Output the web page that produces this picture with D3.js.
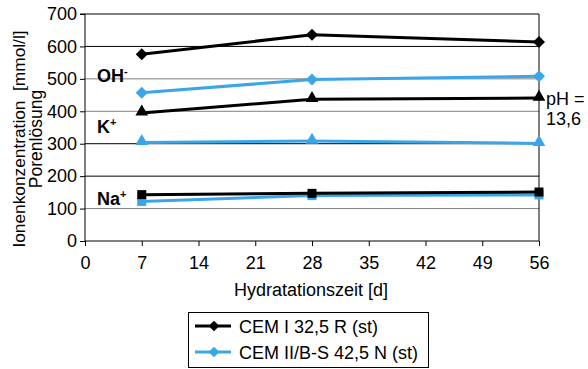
<!DOCTYPE html>
<html><head><meta charset="utf-8">
<script src="https://cdn.jsdelivr.net/npm/d3@7"></script>
<style>body{margin:0;background:#fff}svg{font-family:"Liberation Sans",Arial,sans-serif}</style>
</head><body><svg id="c" width="588" height="369"></svg>
<script>
const days = [7, 28, 56];
const xTicks = [0, 7, 14, 21, 28, 35, 42, 49, 56];
const yTicks = [0, 100, 200, 300, 400, 500, 600, 700];
const ohCem1 = [576, 636, 614];
const ohCem2 = [457, 498, 508];
const kCem1 = [395, 437, 441];
const kCem2 = [304, 308, 301];
const naCem1 = [143, 147, 151];
const naCem2 = [122, 140, 142];
const BLUE = "#3aa6e8";
const series = [
  {vals: ohCem2, color: BLUE, sym: "d"},
  {vals: kCem2, color: BLUE, sym: "t"},
  {vals: naCem2, color: BLUE, sym: "s"},
  {vals: ohCem1, color: "#000", sym: "d"},
  {vals: kCem1, color: "#000", sym: "t"},
  {vals: naCem1, color: "#000", sym: "s"}
];
const gridGray = [100, 400, 500];
const svg = d3.select("#c");
const x = d3.scaleLinear().domain([0, 56]).range([85, 539]);
const y = d3.scaleLinear().domain([0, 700]).range([241, 14]);

function marker(sym, cx, cy, color, scale) {
  scale = scale || 1;
  if (sym === "d") {
    return svg.append("path").attr("transform", `translate(${cx},${cy}) rotate(45)`)
      .attr("d", d3.symbol(d3.symbolSquare, 72 * scale)).attr("fill", color);
  } else if (sym === "t") {
    return svg.append("path").attr("transform", `translate(${cx},${cy - 1})`)
      .attr("d", d3.symbol(d3.symbolTriangle, 70)).attr("fill", color);
  } else {
    return svg.append("path").attr("transform", `translate(${cx},${cy})`)
      .attr("d", d3.symbol(d3.symbolSquare, 81)).attr("fill", color);
  }
}

// grid
svg.append("g").selectAll("line").data(yTicks.filter(v => v > 0)).join("line")
  .attr("x1", x(0)).attr("x2", x(56)).attr("y1", d => y(d)).attr("y2", d => y(d))
  .attr("stroke", d => gridGray.includes(d) ? "#808080" : "#000").attr("stroke-width", 1);
svg.append("line").attr("x1", x(56)).attr("x2", x(56)).attr("y1", y(0)).attr("y2", y(700)).attr("stroke", "#000");

const yAx = svg.append("g").attr("transform", `translate(${x(0)},0)`)
  .call(d3.axisLeft(y).tickValues(yTicks).tickSize(5).tickPadding(3));
yAx.selectAll("text").attr("font-size", 18).attr("fill", "#000").attr("font-family", "Liberation Sans, Arial");
yAx.select(".domain").attr("d", `M-5,${y(700)}H0V${y(0)}`);
const xAx = svg.append("g").attr("transform", `translate(0,${y(0)})`)
  .call(d3.axisBottom(x).tickValues(xTicks).tickSize(5).tickPadding(10));
xAx.selectAll("text").attr("font-size", 18).attr("fill", "#000").attr("font-family", "Liberation Sans, Arial");
xAx.select(".domain").attr("d", `M${x(0)},0H${x(56)}`);

const line = d3.line().x((d, i) => x(days[i])).y(d => y(d));
series.forEach(s => {
  svg.append("path").attr("d", line(s.vals)).attr("fill", "none").attr("stroke", s.color).attr("stroke-width", 3);
  s.vals.forEach((v, i) => marker(s.sym, x(days[i]), y(v), s.color));
});

// ion labels
const lab = [["OH", "-", 82], ["K", "+", 133], ["Na", "+", 205]];
lab.forEach(l => {
  const t = svg.append("text").attr("x", 97).attr("y", l[2]).attr("font-size", 18).attr("font-weight", "bold");
  t.append("tspan").text(l[0]);
  t.append("tspan").text(l[1]).attr("font-size", 11).attr("dy", -7);
});
svg.append("text").attr("x", 546).attr("y", 105).attr("font-size", 18).text("pH =");
svg.append("text").attr("x", 546).attr("y", 125).attr("font-size", 18).text("13,6");

// axis titles
svg.append("text").attr("transform", "translate(25,139) rotate(-90)").attr("text-anchor", "middle").attr("font-size", 17.3)
  .style("white-space", "pre").text("Ionenkonzentration  [mmol/l]");
svg.append("text").attr("transform", "translate(42,139) rotate(-90)").attr("text-anchor", "middle").attr("font-size", 17.5).text("Porenlösung");
svg.append("text").attr("x", 311).attr("y", 296).attr("text-anchor", "middle").attr("font-size", 18).text("Hydratationszeit [d]");

// legend
svg.append("rect").attr("x", 188.5).attr("y", 312.5).attr("width", 240).attr("height", 55).attr("fill", "none").attr("stroke", "#000");
const leg = [["CEM I 32,5 R (st)", "#000"], ["CEM II/B-S 42,5 N (st)", BLUE]];
leg.forEach((l, i) => {
  const yy = 326 + i * 26;
  svg.append("line").attr("x1", 195).attr("x2", 231).attr("y1", yy).attr("y2", yy).attr("stroke", l[1]).attr("stroke-width", 3);
  marker("d", 214, yy, l[1], 0.8);
  svg.append("text").attr("x", 239).attr("y", yy + 7).attr("font-size", 18).text(l[0]);
});
</script></body></html>
